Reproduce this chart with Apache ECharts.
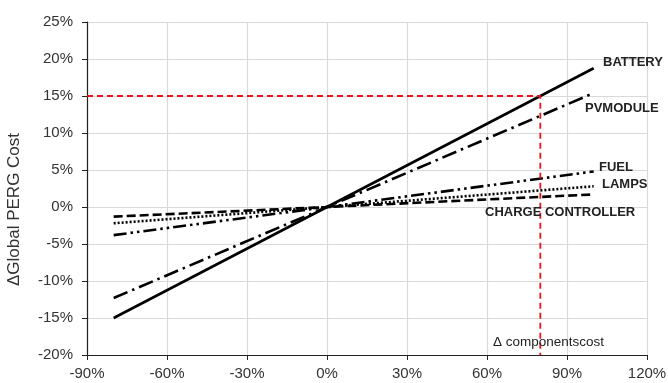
<!DOCTYPE html>
<html>
<head>
<meta charset="utf-8">
<script src="https://cdn.jsdelivr.net/npm/echarts@6/dist/echarts.min.js"></script>
<style>
  html, body { margin: 0; padding: 0; background: #fff; }
  #chart { width: 668px; height: 383px; }
</style>
</head>
<body>
<div id="chart"></div>
<script>
// Change in component cost (%) at which each sensitivity line is sampled
const componentChange = [-80, 0, 100];

// Change in global PERG cost (%) for each component
const battery = [-15, 0, 18.75];
const pvModule = [-12.3, 0, 15.4];
const fuel = [-3.8, 0, 4.8];
const lamps = [-2.2, 0, 2.8];
const chargeController = [-1.3, 0, 1.7];

// Reference guide: 80 % component change gives 15 % global change
const guidePoints = [[-90, 15], [80, 15], [80, -20]];

const seriesNames = ['BATTERY', 'PVMODULE', 'FUEL', 'LAMPS', 'CHARGE CONTROLLER'];
const seriesValues = [battery, pvModule, fuel, lamps, chargeController];
const dashStyles = ['solid', [15, 5, 2.5, 5], [13, 4, 2.5, 4, 2.5, 4], [2, 2], [9, 4]];

const font = '"Liberation Sans", Arial, sans-serif';

const chart = echarts.init(document.getElementById('chart'), null, { renderer: 'canvas' });

const lineSeries = seriesNames.map((name, i) => ({
  name: name,
  type: 'line',
  data: componentChange.map((x, j) => [x, seriesValues[i][j]]),
  showSymbol: false,
  silent: true,
  z: 3,
  lineStyle: { color: '#000', width: 2.6, type: dashStyles[i], cap: 'butt' }
}));

lineSeries.push({
  name: 'guide',
  type: 'line',
  data: guidePoints,
  showSymbol: false,
  silent: true,
  z: 4,
  lineStyle: { color: '#e8131b', width: 1.8, type: [6, 4] }
});

// Series labels placed beside the line ends
const labels = [
  { text: 'BATTERY', x: 603, y: 62.5 },
  { text: 'PVMODULE', x: 585, y: 108 },
  { text: 'FUEL', x: 599, y: 167 },
  { text: 'LAMPS', x: 602, y: 184 },
  { text: 'CHARGE CONTROLLER', x: 485, y: 212.5 }
];

chart.setOption({
  animation: false,
  backgroundColor: '#fff',
  grid: { left: 87, right: 21, top: 22, bottom: 28, containLabel: false, outerBoundsMode: 'none' },
  xAxis: {
    type: 'value',
    min: -90, max: 120, interval: 30,
    axisLine: { show: true, onZero: false, lineStyle: { color: '#222', width: 1.2 } },
    axisTick: { show: true, length: 5, lineStyle: { color: '#222' } },
    axisLabel: { formatter: '{value}%', color: '#333', fontSize: 15, fontFamily: font, margin: 11 },
    splitLine: { show: true, lineStyle: { color: '#d9d9d9', width: 1.2 } }
  },
  yAxis: {
    type: 'value',
    min: -20, max: 25, interval: 5,
    name: 'ΔGlobal PERG Cost',
    nameLocation: 'middle',
    nameGap: 64,
    // extra padding on the upper end lowers the rotated title a little
    nameTextStyle: { color: '#333', fontSize: 17, fontFamily: font, padding: [0, 42, 0, 0] },
    axisLine: { show: true, onZero: false, lineStyle: { color: '#222', width: 1.2 } },
    axisTick: { show: true, length: 5, lineStyle: { color: '#222' } },
    axisLabel: { formatter: '{value}%', color: '#333', fontSize: 15, fontFamily: font, margin: 14 },
    splitLine: { show: true, lineStyle: { color: '#d9d9d9', width: 1.2 } }
  },
  graphic: labels.map(l => ({
    type: 'text', z: 10,
    style: {
      text: l.text, x: l.x, y: l.y, verticalAlign: 'middle',
      fill: '#222', font: 'bold 13px ' + font
    }
  })).concat([{
    type: 'text', z: 10,
    style: {
      text: 'Δ componentscost', x: 493, y: 342, verticalAlign: 'middle',
      fill: '#222', font: '13.5px ' + font
    }
  }]),
  series: lineSeries
});
</script>
</body>
</html>
